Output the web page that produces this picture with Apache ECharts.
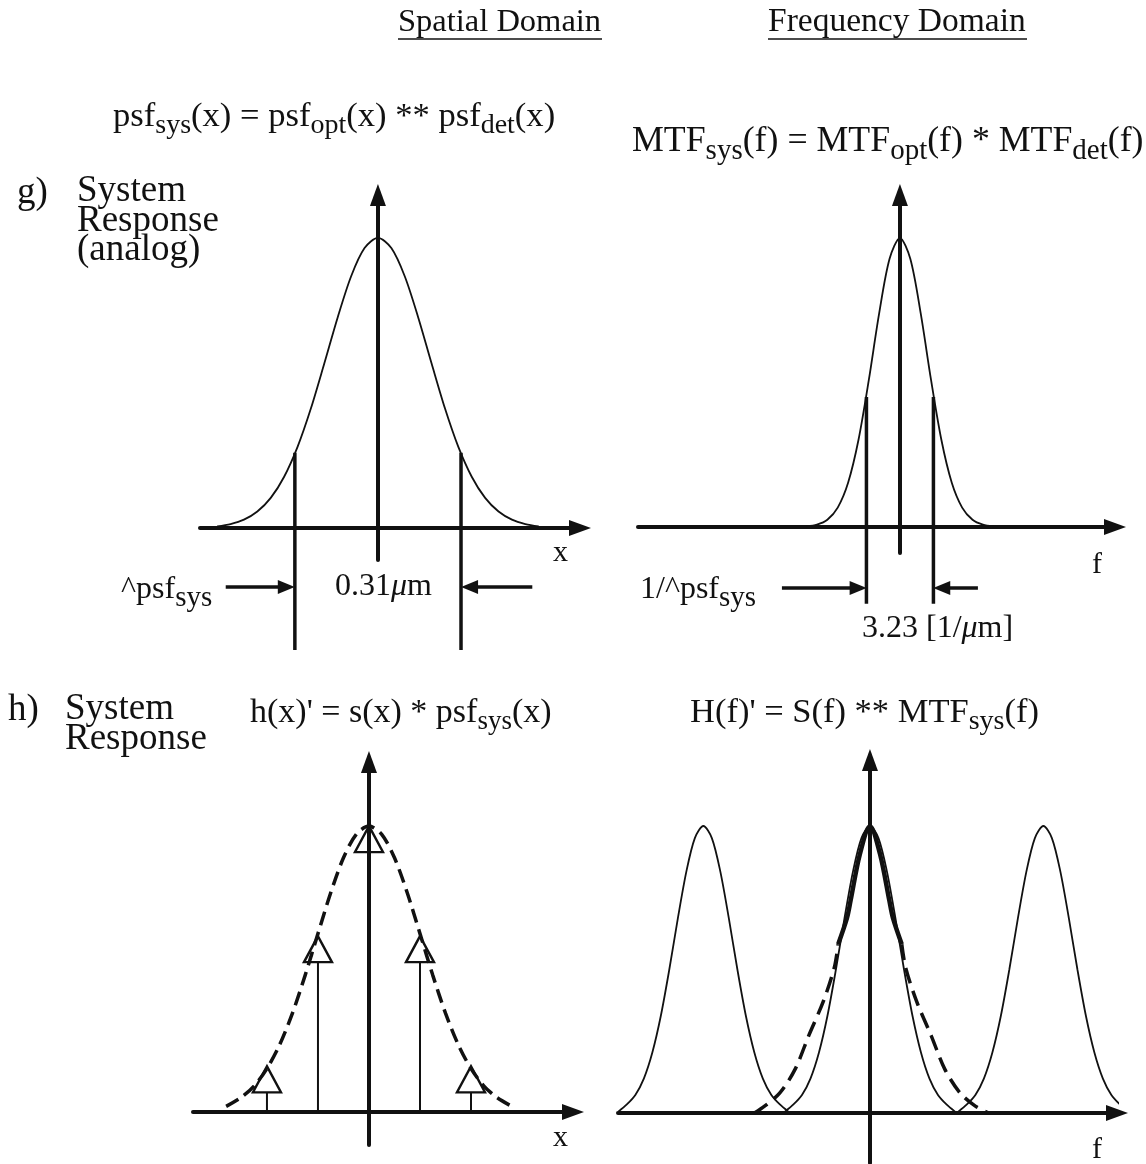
<!DOCTYPE html>
<html>
<head>
<meta charset="utf-8">
<script src="https://cdn.jsdelivr.net/npm/echarts@6/dist/echarts.min.js"></script>
<style>
  html, body { margin: 0; padding: 0; background: #fff; }
  #main { width: 1146px; height: 1164px; }
</style>
</head>
<body>
<div id="main"></div>
<script>
// g) spatial domain: psf_sys(x), x in um
const psfX = [-0.30, -0.275, -0.25, -0.225, -0.20, -0.175, -0.15, -0.125, -0.10, -0.075, -0.05, -0.025, 0,
  0.025, 0.05, 0.075, 0.10, 0.125, 0.15, 0.175, 0.20, 0.225, 0.25, 0.275, 0.30]
const psfY = [0.006, 0.014, 0.029, 0.057, 0.104, 0.177, 0.280, 0.413, 0.568, 0.727, 0.868, 0.965, 1,
  0.965, 0.868, 0.727, 0.568, 0.413, 0.280, 0.177, 0.104, 0.057, 0.029, 0.014, 0.006]
const psfWidth = 0.31        // um, marked width of psf_sys
const psfAtMarker = 0.26

// g) frequency domain: MTF_sys(f), f in 1/um
const mtfF = [-4.5, -4, -3.5, -3, -2.5, -2, -1.5, -1, -0.5, 0, 0.5, 1, 1.5, 2, 2.5, 3, 3.5, 4, 4.5]
const mtfY = [0.002, 0.008, 0.025, 0.067, 0.153, 0.301, 0.509, 0.740, 0.928, 1,
  0.928, 0.740, 0.509, 0.301, 0.153, 0.067, 0.025, 0.008, 0.002]
const mtfWidth = 3.23        // 1/um
const mtfAtMarker = 0.45

// h) spatial domain: samples (in sample pitch units) and the dashed envelope
const sampleX = [-2, -1, 0, 1, 2]
const sampleY = [0.16, 0.615, 1.0, 0.615, 0.16]
const envX = [-2.8, -2.5, -2.25, -2, -1.75, -1.5, -1.25, -1, -0.75, -0.5, -0.25, 0,
  0.25, 0.5, 0.75, 1, 1.25, 1.5, 1.75, 2, 2.25, 2.5, 2.8]
const envY = [0.02, 0.052, 0.092, 0.152, 0.236, 0.346, 0.479, 0.624, 0.767, 0.889, 0.971, 1,
  0.971, 0.889, 0.767, 0.624, 0.479, 0.346, 0.236, 0.152, 0.092, 0.052, 0.02]

// h) frequency domain: replicas at multiples of the sampling frequency
const replicaCenters = [-0.98, 0, 1.02]
const replicaU = [-0.5, -0.45, -0.4, -0.35, -0.3, -0.25, -0.2, -0.15, -0.1, -0.05, 0,
  0.05, 0.1, 0.15, 0.2, 0.25, 0.3, 0.35, 0.4, 0.45, 0.5]
const replicaV = [0.005, 0.03, 0.063, 0.12, 0.211, 0.339, 0.501, 0.678, 0.841, 0.958, 1,
  0.958, 0.841, 0.678, 0.501, 0.339, 0.211, 0.12, 0.063, 0.03, 0.005]
// bold aliased response around f = 0
const aliasU = [-0.68, -0.62, -0.53, -0.44, -0.36, -0.275, -0.21, -0.187, -0.135, -0.114, -0.06, 0,
  0.06, 0.114, 0.135, 0.187, 0.21, 0.275, 0.36, 0.44, 0.53, 0.62, 0.70]
const aliasV = [0.0, 0.024, 0.07, 0.153, 0.27, 0.388, 0.506, 0.588, 0.68, 0.74, 0.9, 1,
  0.9, 0.74, 0.68, 0.588, 0.506, 0.388, 0.27, 0.153, 0.07, 0.024, 0.0]

const ink = "#111"
const serif = '"Liberation Serif", "Times New Roman", serif'

const pairs = (xs, ys) => xs.map((x, i) => [x, ys[i]])

// 四个面板的坐标系
const grids = [
  { left: 200, top: 195, width: 380, height: 365 },
  { left: 638, top: 195, width: 477, height: 358 },
  { left: 193, top: 762, width: 380, height: 383 },
  { left: 618, top: 760, width: 499, height: 403 },
]
const xRanges = [[-0.332, 0.377], [-12.63, 10.37], [-3.45, 4.0], [-1.482, 1.453]]
const yRanges = [[-0.11, 1.148], [-0.09, 1.149], [-0.115, 1.224], [-0.174, 1.23]]

function ax(i, range) {
    return {
        type: "value",
        gridIndex: i,
        min: range[0],
        max: range[1],
        axisLine: {
            onZero: true,
            symbol: ["none", "triangle"],
            symbolSize: [16, 22],
            lineStyle: { color: ink, width: 4 },
        },
        axisTick: { show: false },
        axisLabel: { show: false },
        splitLine: { show: false },
    }
}

function seg(g, data, width, extra) {
    return Object.assign({
        type: "line",
        xAxisIndex: g,
        yAxisIndex: g,
        data,
        symbol: "none",
        clip: false,
        silent: true,
        lineStyle: { color: ink, width },
    }, extra || {})
}
function arrow(g, from, to, rotate) {
    return seg(g, [{ value: from, symbol: "none" }, { value: to }], 3.5, {
        symbol: "triangle",
        symbolSize: [14, 17],
        symbolRotate: rotate,
        showSymbol: true,
        itemStyle: { color: ink },
    })
}

function label(x, y, text, size, subRatio, extra) {
    const sub = Math.round(size * (subRatio || 0.8))
    return {
        type: "text",
        x,
        y,
        silent: true,
        style: Object.assign({
            text,
            fontFamily: serif,
            fontSize: size,
            fill: ink,
            align: "left",
            verticalAlign: "middle",
            rich: {
                sub: { fontFamily: serif, fontSize: sub, padding: [Math.round(size * 0.5), 0, 0, 0], fill: ink },
                mu: { fontFamily: serif, fontSize: size, fontStyle: "italic", fill: ink },
            },
        }, extra || {}),
    }
}

const series = []

// g) spatial
const hw = psfWidth / 2
series.push(seg(0, pairs(psfX, psfY), 1.8, { smooth: 0.3 }))
series.push(seg(0, [[-hw, psfAtMarker], [-hw, -0.42]], 3.5))
series.push(seg(0, [[hw, psfAtMarker], [hw, -0.42]], 3.5))
series.push(arrow(0, [-0.284, -0.203], [-hw - 0.016, -0.203], -90))
series.push(arrow(0, [0.288, -0.203], [hw + 0.016, -0.203], 90))

// g) frequency
const fw = mtfWidth / 2
series.push(seg(1, pairs(mtfF, mtfY), 1.8, { smooth: 0.3 }))
series.push(seg(1, [[-fw, mtfAtMarker], [-fw, -0.266]], 3.5))
series.push(seg(1, [[fw, mtfAtMarker], [fw, -0.266]], 3.5))
series.push(arrow(1, [-5.69, -0.211], [-fw - 0.4, -0.211], -90))
series.push(arrow(1, [3.76, -0.211], [fw + 0.4, -0.211], 90))

// h) spatial: stems, open arrowheads, dashed envelope
series.push({
    type: "bar",
    xAxisIndex: 2,
    yAxisIndex: 2,
    data: pairs(sampleX, sampleY),
    barWidth: 2,
    itemStyle: { color: ink },
    silent: true,
})
series.push({
    type: "scatter",
    xAxisIndex: 2,
    yAxisIndex: 2,
    data: sampleX.map((x, i) => ({
        value: [x, sampleY[i]],
        itemStyle: x === 0 ? { color: "rgba(0,0,0,0)" } : undefined,
    })),
    symbol: "triangle",
    symbolSize: [28, 26],
    symbolOffset: [0, "50%"],
    itemStyle: { color: "#fff", borderColor: ink, borderWidth: 2.4, opacity: 1 },
    silent: true,
    z: 4,
})
series.push(seg(2, pairs(envX, envY), 3.5, {
    smooth: 0.3,
    z: 5,
    lineStyle: { color: ink, width: 3.5, type: [14, 7] },
}))

// h) frequency: replicas + aliased response
replicaCenters.forEach((c) => {
    series.push(seg(3, replicaU.map((u, i) => [c + u, replicaV[i]]), 1.8, { smooth: 0.3 }))
})
const aliasPts = pairs(aliasU, aliasV)
series.push(seg(3, aliasPts.filter((p) => Math.abs(p[0]) <= 0.19), 4.5, { smooth: 0.3, z: 5 }))
series.push(seg(3, aliasPts.filter((p) => p[0] <= -0.187), 3.5, {
    smooth: 0.3, z: 5, lineStyle: { color: ink, width: 3.5, type: [16, 8] },
}))
series.push(seg(3, aliasPts.filter((p) => p[0] >= 0.187), 3.5, {
    smooth: 0.3, z: 5, lineStyle: { color: ink, width: 3.5, type: [16, 8] },
}))

const multi = { verticalAlign: "top", lineHeight: 29.5 }
const texts = [
    label(398, 22, "Spatial Domain", 32.5),
    label(768, 22, "Frequency Domain", 33.5),
    { type: "line", shape: { x1: 398, y1: 39, x2: 602, y2: 39 }, style: { stroke: ink, lineWidth: 1.6 }, silent: true },
    { type: "line", shape: { x1: 768, y1: 39, x2: 1027, y2: 39 }, style: { stroke: ink, lineWidth: 1.6 }, silent: true },

    label(113, 117, "psf{sub|sys}(x) = psf{sub|opt}(x) ** psf{sub|det}(x)", 34.6),
    label(632, 142, "MTF{sub|sys}(f) = MTF{sub|opt}(f) * MTF{sub|det}(f)", 35.8),

    label(17, 193, "g)", 37),
    label(77, 177, "System\nResponse\n(analog)", 37, 0.8, multi),

    label(121, 590, "^psf{sub|sys}", 32, 0.92),
    label(335, 587, "0.31{mu|μ}m", 32),
    label(553, 553, "x", 30),
    label(640, 590, "1/^psf{sub|sys}", 32, 0.92),
    label(862, 629, "3.23 [1/{mu|μ}m]", 32),
    label(1092, 565, "f", 30),

    label(8, 710, "h)", 37),
    label(65, 695, "System\nResponse", 37, 0.8, multi),
    label(250, 713, "h(x)' = s(x) * psf{sub|sys}(x)", 34),
    label(690, 713, "H(f)' = S(f) ** MTF{sub|sys}(f)", 34.5),
    label(553, 1138, "x", 30),
    label(1092, 1150, "f", 30),
]

const chart = echarts.init(document.getElementById("main"), null, { renderer: "canvas" })
chart.setOption({
    animation: false,
    backgroundColor: "#fff",
    grid: grids,
    xAxis: xRanges.map((r, i) => ax(i, r)),
    yAxis: yRanges.map((r, i) => ax(i, r)),
    series,
    graphic: { elements: texts },
})
</script>
</body>
</html>
